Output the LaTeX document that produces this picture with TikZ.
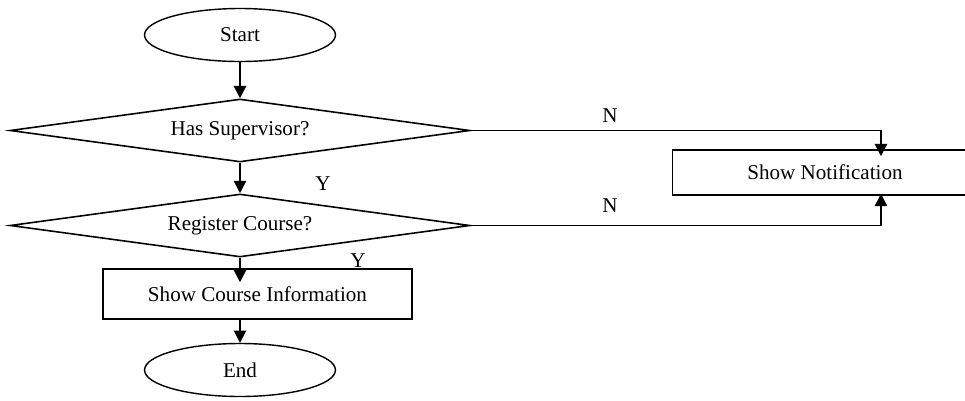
\documentclass[tikz,border=0pt]{standalone}
\usepackage{fontspec}
\setmainfont{Liberation Serif}
\usetikzlibrary{shapes.geometric, positioning, calc, arrows.meta}

\begin{document}
\begin{tikzpicture}[x=0.02cm, y=-0.02cm,
    font=\fontsize{12}{14}\selectfont,
    terminal/.style={draw, line width=0.8pt, ellipse, inner sep=0pt, minimum width=3.82cm, minimum height=1.06cm},
    decision/.style={draw, line width=0.9pt, diamond, aspect=7.3, inner sep=0pt, minimum width=9.2cm, minimum height=1.26cm},
    process/.style={draw, line width=0.9pt, rectangle, inner sep=0pt},
    flow/.style={-{Triangle[length=7pt, width=7pt]}, line width=0.9pt},
    answer/.style={inner sep=0pt}]
      \useasboundingbox (0,0) rectangle (965,400);
      \clip (0,0) rectangle (965,400);
      \node[terminal] (start) at (240,35) {Start};
      \node[decision] (super) at (240,130.5) {Has Supervisor?};
      \node[decision] (reg) at (240,225.5) {Register Course?};
      \node[process, minimum width=6.18cm, minimum height=1.0cm] (info) at (257.5,294) {Show Course Information};
      \node[terminal] (stop) at (240,370) {End};
      \node[process, minimum width=6.1cm, minimum height=0.9cm] (note) at (825,172.5) {Show Notification};

      \node[answer] (ysuper) at (323,184) {Y};
      \node[answer] (yreg) at (358,261) {Y};
      \node[answer] (nsuper) at (610,116) {N};
      \node[answer] (nreg) at (610,206) {N};

      \draw[flow] (start) -- (super);
      \draw[flow] (super) -- (reg);
      \draw[flow, shorten >=-0.28cm] (reg.south) -- (reg.south |- info.north);
      \draw[flow] (stop.north |- info.south) -- (stop.north);
      \draw[flow, shorten >=-0.14cm] (super.east) -| ([xshift=1.12cm]note.north);
      \draw[flow, shorten >=-0.04cm] (reg.east) -| ([xshift=1.12cm]note.south);
    \end{tikzpicture}
\end{document}
